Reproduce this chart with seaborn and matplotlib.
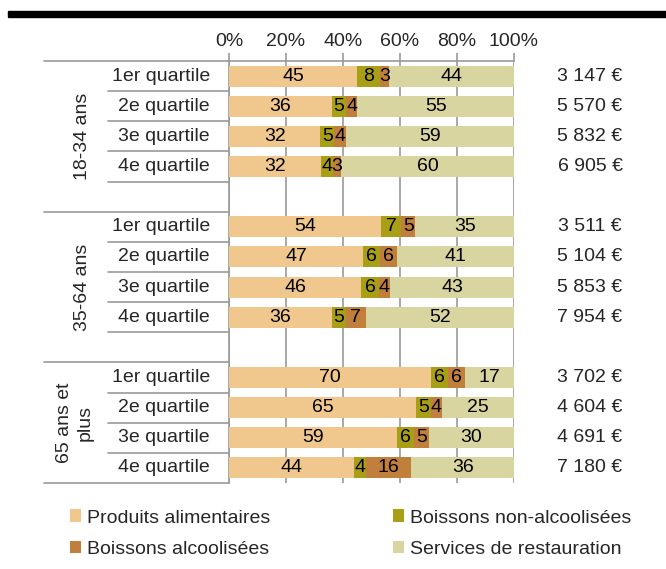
import numpy as np
import pandas as pd
import matplotlib
matplotlib.use("Agg")
import matplotlib.pyplot as plt
import matplotlib.transforms as mtransforms
from matplotlib.patches import Patch, Rectangle
import seaborn as sns

# Data
groups = ["18-34 ans", "35-64 ans", "65 ans et\nplus"]
quartiles = ["1er quartile", "2e quartile", "3e quartile", "4e quartile"]
series = ["Produits alimentaires", "Boissons non-alcoolisées",
          "Boissons alcoolisées", "Services de restauration"]
food = [45, 36, 32, 32, 54, 47, 46, 36, 70, 65, 59, 44]
soft_drinks = [8, 5, 5, 4, 7, 6, 6, 5, 6, 5, 6, 4]
alcohol = [3, 4, 4, 3, 5, 6, 4, 7, 6, 4, 5, 16]
restaurant = [44, 55, 59, 60, 35, 41, 43, 52, 17, 25, 30, 36]
budget = ["3 147 €", "5 570 €", "5 832 €", "6 905 €",
          "3 511 €", "5 104 €", "5 853 €", "7 954 €",
          "3 702 €", "4 604 €", "4 691 €", "7 180 €"]

colors = ["#F0C88E", "#A89F16", "#C0803C", "#D9D5A1"]
grid_col = "#9A9A9A"

sns.set_style("white")
plt.rcParams["font.family"] = ["Liberation Sans", "DejaVu Sans"]
FS = 14

# row positions (a blank slot after each group)
pos = []
for g in range(3):
    pos += [g * 5 + q for q in range(4)]
pos = np.array(pos)

vals = np.array([food, soft_drinks, alcohol, restaurant], dtype=float)
shares = vals / vals.sum(axis=0) * 100
cum = np.cumsum(shares, axis=0)
left = cum - shares

fig = plt.figure(figsize=(6.66, 5.69), dpi=100)
ax = fig.add_axes([229 / 666, 1 - 483 / 569, 285 / 666, 422 / 569])

# stacked bars: draw cumulative totals from the back to the front
for k in reversed(range(4)):
    df = pd.DataFrame({"value": cum[k], "pos": pos})
    sns.barplot(data=df, x="value", y="pos", orient="h", native_scale=True,
                color=colors[k], saturation=1, width=0.7, linewidth=0,
                ax=ax, zorder=3)

# value labels
for k in range(4):
    for i, p in enumerate(pos):
        ax.text(left[k, i] + shares[k, i] / 2, p, f"{vals[k, i]:.0f}",
                ha="center", va="center", fontsize=FS, color="black", zorder=4)

ax.set_xlim(0, 100)
ax.set_ylim(13.5, -0.5)
ax.set_xticks(range(0, 101, 20))
ax.set_xticklabels([f"{t}%" for t in range(0, 101, 20)], fontsize=FS)
ax.xaxis.tick_top()
ax.tick_params(axis="x", length=6, width=1.2, color=grid_col, pad=2)
ax.set_yticks([])
ax.set_xlabel("")
ax.set_ylabel("")
ax.grid(axis="x", color=grid_col, lw=1.2, zorder=0)
ax.set_axisbelow(True)
for s in ["bottom", "right"]:
    ax.spines[s].set_visible(False)
for s in ["top", "left"]:
    ax.spines[s].set_color(grid_col)
    ax.spines[s].set_linewidth(1.2)

# category table on the left
trans = mtransforms.blended_transform_factory(ax.transAxes, ax.transData)
x_group = (44 - 229) / 285
x_quart = (108 - 229) / 285
for g in range(3):
    base = g * 5
    ax.plot([x_group, 0], [base - 0.5, base - 0.5], color=grid_col, lw=1.2,
            transform=trans, clip_on=False)
    for q in range(4):
        if g < 2 or q < 3:
            ax.plot([x_quart, 0], [base + q + 0.5] * 2, color=grid_col, lw=1.2,
                    transform=trans, clip_on=False)
        ax.text((210 - 229) / 285, base + q, quartiles[q], ha="right",
                va="center", fontsize=FS, transform=trans)
ax.plot([x_group, 0], [13.5, 13.5], color=grid_col, lw=1.2,
        transform=trans, clip_on=False)

group_x = [(82 - 229) / 285, (82 - 229) / 285, (75 - 229) / 285]
group_y = [2, 7, 11.5]
for g in range(3):
    ax.text(group_x[g], group_y[g], groups[g], rotation=90, ha="center",
            va="center", multialignment="center", fontsize=FS,
            transform=trans, linespacing=1.25)

# budget column
for i, p in enumerate(pos):
    ax.text((590 - 229) / 285, p, budget[i], ha="center", va="center",
            fontsize=FS, transform=trans)

# top black rule
fig.patches.append(Rectangle((8 / 666, 1 - 17 / 569), 1, 6 / 569,
                             transform=fig.transFigure, color="black"))

# legend (row-wise order)
handles = [Patch(facecolor=colors[i], edgecolor="none") for i in range(4)]
order = [0, 2, 1, 3]
fig.legend([handles[i] for i in order], [series[i] for i in order],
           loc="upper left", bbox_to_anchor=(52 / 666, 1 - 492 / 569),
           ncol=2, frameon=False, fontsize=FS, handlelength=0.6,
           handleheight=0.6, handletextpad=0.3, labelspacing=0.75,
           columnspacing=6.3)

fig.savefig("out.png", dpi=100)
